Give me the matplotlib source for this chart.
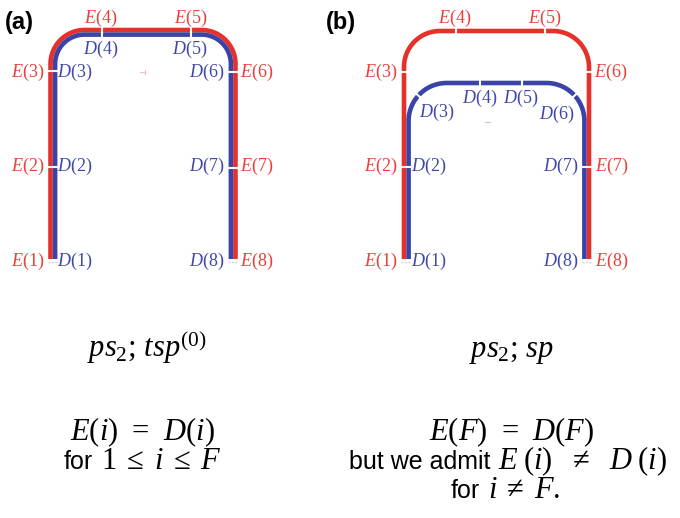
import numpy as np
import matplotlib.pyplot as plt

plt.rcParams['mathtext.fontset'] = 'custom'
plt.rcParams['mathtext.rm'] = 'Liberation Serif'
plt.rcParams['mathtext.it'] = 'Liberation Serif:italic'
plt.rcParams['mathtext.bf'] = 'Liberation Serif:bold'

# node labels along the two paths
E_LABELS = ['$E$(1)', '$E$(2)', '$E$(3)', '$E$(4)', '$E$(5)', '$E$(6)', '$E$(7)', '$E$(8)']
D_LABELS = ['$D$(1)', '$D$(2)', '$D$(3)', '$D$(4)', '$D$(5)', '$D$(6)', '$D$(7)', '$D$(8)']
PANELS = ['(a)', '(b)']

# captions under each panel: (plain words, formula) per line
CAPTION_A = [('', r'$ps_2;\,tsp^{(0)}$'),
             ('', r'$E(i)\;\,=\;\,D(i)$'),
             ('for', r'$1\;\leq\;i\;\leq\;F$')]
CAPTION_B = [('', r'$ps_2;\,sp$'),
             ('', r'$E(F)\;\,=\;\,D(F)$'),
             ('but we admit', r'$E\;(i)\;\;\,\neq\;\;\,D\;(i)$'),
             ('for', r'$i\;\neq\;F$.')]

RED = '#e6302a'
BLUE = '#3a44a8'
RED_TXT = '#e8403a'
BLUE_TXT = '#4047a8'
LW = 4.6 * 0.72  # px -> pt
MATH_FS = 22
WORD_FS = 18


def u_path(xl, xr, ytop, ybot, r, n=40):
    cy = ytop + r
    t1 = np.linspace(np.pi, np.pi / 2, n)
    t2 = np.linspace(np.pi / 2, 0, n)
    x = np.concatenate([[xl], xl + r + r * np.cos(t1), xr - r + r * np.cos(t2), [xr]])
    y = np.concatenate([[ybot], cy - r * np.sin(t1), cy - r * np.sin(t2), [ybot]])
    return x, y


def tick(ax, x, y, ang, length=9):
    a = np.deg2rad(ang)
    dx, dy = np.cos(a) * length / 2, -np.sin(a) * length / 2
    ax.plot([x - dx, x + dx], [y - dy, y + dy], color='white', lw=1.5,
            solid_capstyle='butt', zorder=5)


def arc_pt(xl, ytop, r, ang, right=False, xr=None):
    cx = (xr - r) if right else (xl + r)
    cy = ytop + r
    a = np.deg2rad(ang)
    return cx + r * np.cos(a), cy - r * np.sin(a)


def lab(ax, x, y, s, color, ha):
    ax.text(x, y, s, color=color, ha=ha, va='center', fontsize=13,
            fontfamily='Liberation Serif', zorder=6)


def caption(ax, x, y, words, formula, gap=8):
    # words in sans, formula in serif italic; x is the join point (or centre if no words)
    if words:
        ax.text(x - gap / 2, y, words, fontsize=WORD_FS, fontfamily='Liberation Sans',
                ha='right', va='baseline')
        ax.text(x + gap / 2, y, formula, fontsize=MATH_FS, fontfamily='Liberation Serif',
                ha='left', va='baseline')
    else:
        ax.text(x, y, formula, fontsize=MATH_FS, fontfamily='Liberation Serif',
                ha='center', va='baseline')


fig = plt.figure(figsize=(6.8, 5.18), dpi=100)
ax = fig.add_axes([0, 0, 1, 1])
ax.set_xlim(0, 680)
ax.set_ylim(518, 0)
ax.axis('off')

# ---- panel (a): paths coincide
ybot = 259
x, y = u_path(50.5, 235.5, 30, ybot, 34)
ax.plot(x, y, color=RED, lw=LW, solid_capstyle='butt', solid_joinstyle='round')
x, y = u_path(55.1, 230.9, 34.6, ybot, 29.4)
ax.plot(x, y, color=BLUE, lw=LW, solid_capstyle='butt', solid_joinstyle='round')

for yy in [167, 71]:
    tick(ax, 53, yy, 0, 13)
    tick(ax, 233, yy + 1, 0, 13)
for xx in [102, 191]:
    tick(ax, xx, 32.3, 90, 13)
for xx in [53, 233]:
    ax.plot([xx - 5, xx + 5], [262, 262], color='#d9cfe0', lw=1, ls=(0, (1.5, 1)))
ax.plot([140, 145], [72, 72], color='#f0c0c0', lw=0.8)
ax.plot([145, 145], [70, 74], color='#f0c0c0', lw=0.8)

lab(ax, 44, 261, E_LABELS[0], RED_TXT, 'right')
lab(ax, 57, 261, D_LABELS[0], BLUE_TXT, 'left')
lab(ax, 44, 166, E_LABELS[1], RED_TXT, 'right')
lab(ax, 57, 166, D_LABELS[1], BLUE_TXT, 'left')
lab(ax, 44, 72, E_LABELS[2], RED_TXT, 'right')
lab(ax, 57, 72, D_LABELS[2], BLUE_TXT, 'left')
lab(ax, 101, 18, E_LABELS[3], RED_TXT, 'center')
lab(ax, 101, 49, D_LABELS[3], BLUE_TXT, 'center')
lab(ax, 191, 18, E_LABELS[4], RED_TXT, 'center')
lab(ax, 190, 49, D_LABELS[4], BLUE_TXT, 'center')
lab(ax, 224, 72, D_LABELS[5], BLUE_TXT, 'right')
lab(ax, 240, 72, E_LABELS[5], RED_TXT, 'left')
lab(ax, 224, 166, D_LABELS[6], BLUE_TXT, 'right')
lab(ax, 240, 166, E_LABELS[6], RED_TXT, 'left')
lab(ax, 224, 261, D_LABELS[7], BLUE_TXT, 'right')
lab(ax, 240, 261, E_LABELS[7], RED_TXT, 'left')

# ---- panel (b): paths split in the middle
rx_l, rx_r, r_top, r_r = 404, 589, 31, 36
bx_l, bx_r, b_top, b_r = 408.6, 584.4, 83, 38
x, y = u_path(rx_l, rx_r, r_top, ybot, r_r)
ax.plot(x, y, color=RED, lw=LW, solid_capstyle='butt', solid_joinstyle='round')
x, y = u_path(bx_l, bx_r, b_top, ybot, b_r)
ax.plot(x, y, color=BLUE, lw=LW, solid_capstyle='butt', solid_joinstyle='round')

tick(ax, rx_l, 72, 0)
tick(ax, rx_r, 72, 0)
tick(ax, 456, r_top, 90)
tick(ax, 545, r_top, 90)
tick(ax, 406.3, 167, 0, 13)
tick(ax, 586.7, 167, 0, 13)
tick(ax, 480, b_top, 90)
tick(ax, 522, b_top, 90)
px, py = arc_pt(bx_l, b_top, b_r, 138)
tick(ax, px, py, 138)
px, py = arc_pt(bx_l, b_top, b_r, 42, right=True, xr=bx_r)
tick(ax, px, py, 42)
for xx in [406.3, 586.7]:
    ax.plot([xx - 5, xx + 5], [262, 262], color='#d9cfe0', lw=1, ls=(0, (1.5, 1)))
ax.plot([485, 490], [122, 122], color='#c8c8d0', lw=0.8)

lab(ax, 397, 261, E_LABELS[0], RED_TXT, 'right')
lab(ax, 411, 261, D_LABELS[0], BLUE_TXT, 'left')
lab(ax, 397, 166, E_LABELS[1], RED_TXT, 'right')
lab(ax, 411, 166, D_LABELS[1], BLUE_TXT, 'left')
lab(ax, 397, 72, E_LABELS[2], RED_TXT, 'right')
lab(ax, 437, 112, D_LABELS[2], BLUE_TXT, 'center')
lab(ax, 455, 18, E_LABELS[3], RED_TXT, 'center')
lab(ax, 480, 98, D_LABELS[3], BLUE_TXT, 'center')
lab(ax, 545, 18, E_LABELS[4], RED_TXT, 'center')
lab(ax, 521, 98, D_LABELS[4], BLUE_TXT, 'center')
lab(ax, 557, 114, D_LABELS[5], BLUE_TXT, 'center')
lab(ax, 594, 72, E_LABELS[5], RED_TXT, 'left')
lab(ax, 578, 166, D_LABELS[6], BLUE_TXT, 'right')
lab(ax, 595, 166, E_LABELS[6], RED_TXT, 'left')
lab(ax, 578, 261, D_LABELS[7], BLUE_TXT, 'right')
lab(ax, 595, 261, E_LABELS[7], RED_TXT, 'left')

# panel letters
ax.text(5, 22, PANELS[0], fontsize=17, fontweight='bold', fontfamily='Liberation Sans',
        ha='left', va='center')
ax.text(326, 22, PANELS[1], fontsize=17, fontweight='bold', fontfamily='Liberation Sans',
        ha='left', va='center')

# captions (x = centre, or join point between words and formula)
cap_x_a = [147, 142, 97]
cap_y_a = [357, 440, 469]
for (w, f), xx, yy in zip(CAPTION_A, cap_x_a, cap_y_a):
    caption(ax, xx, yy, w, f)
cap_x_b = [512, 512, 494, 484]
cap_y_b = [357, 440, 469, 498]
for (w, f), xx, yy in zip(CAPTION_B, cap_x_b, cap_y_b):
    caption(ax, xx, yy, w, f)

fig.savefig('out.png', dpi=100)
